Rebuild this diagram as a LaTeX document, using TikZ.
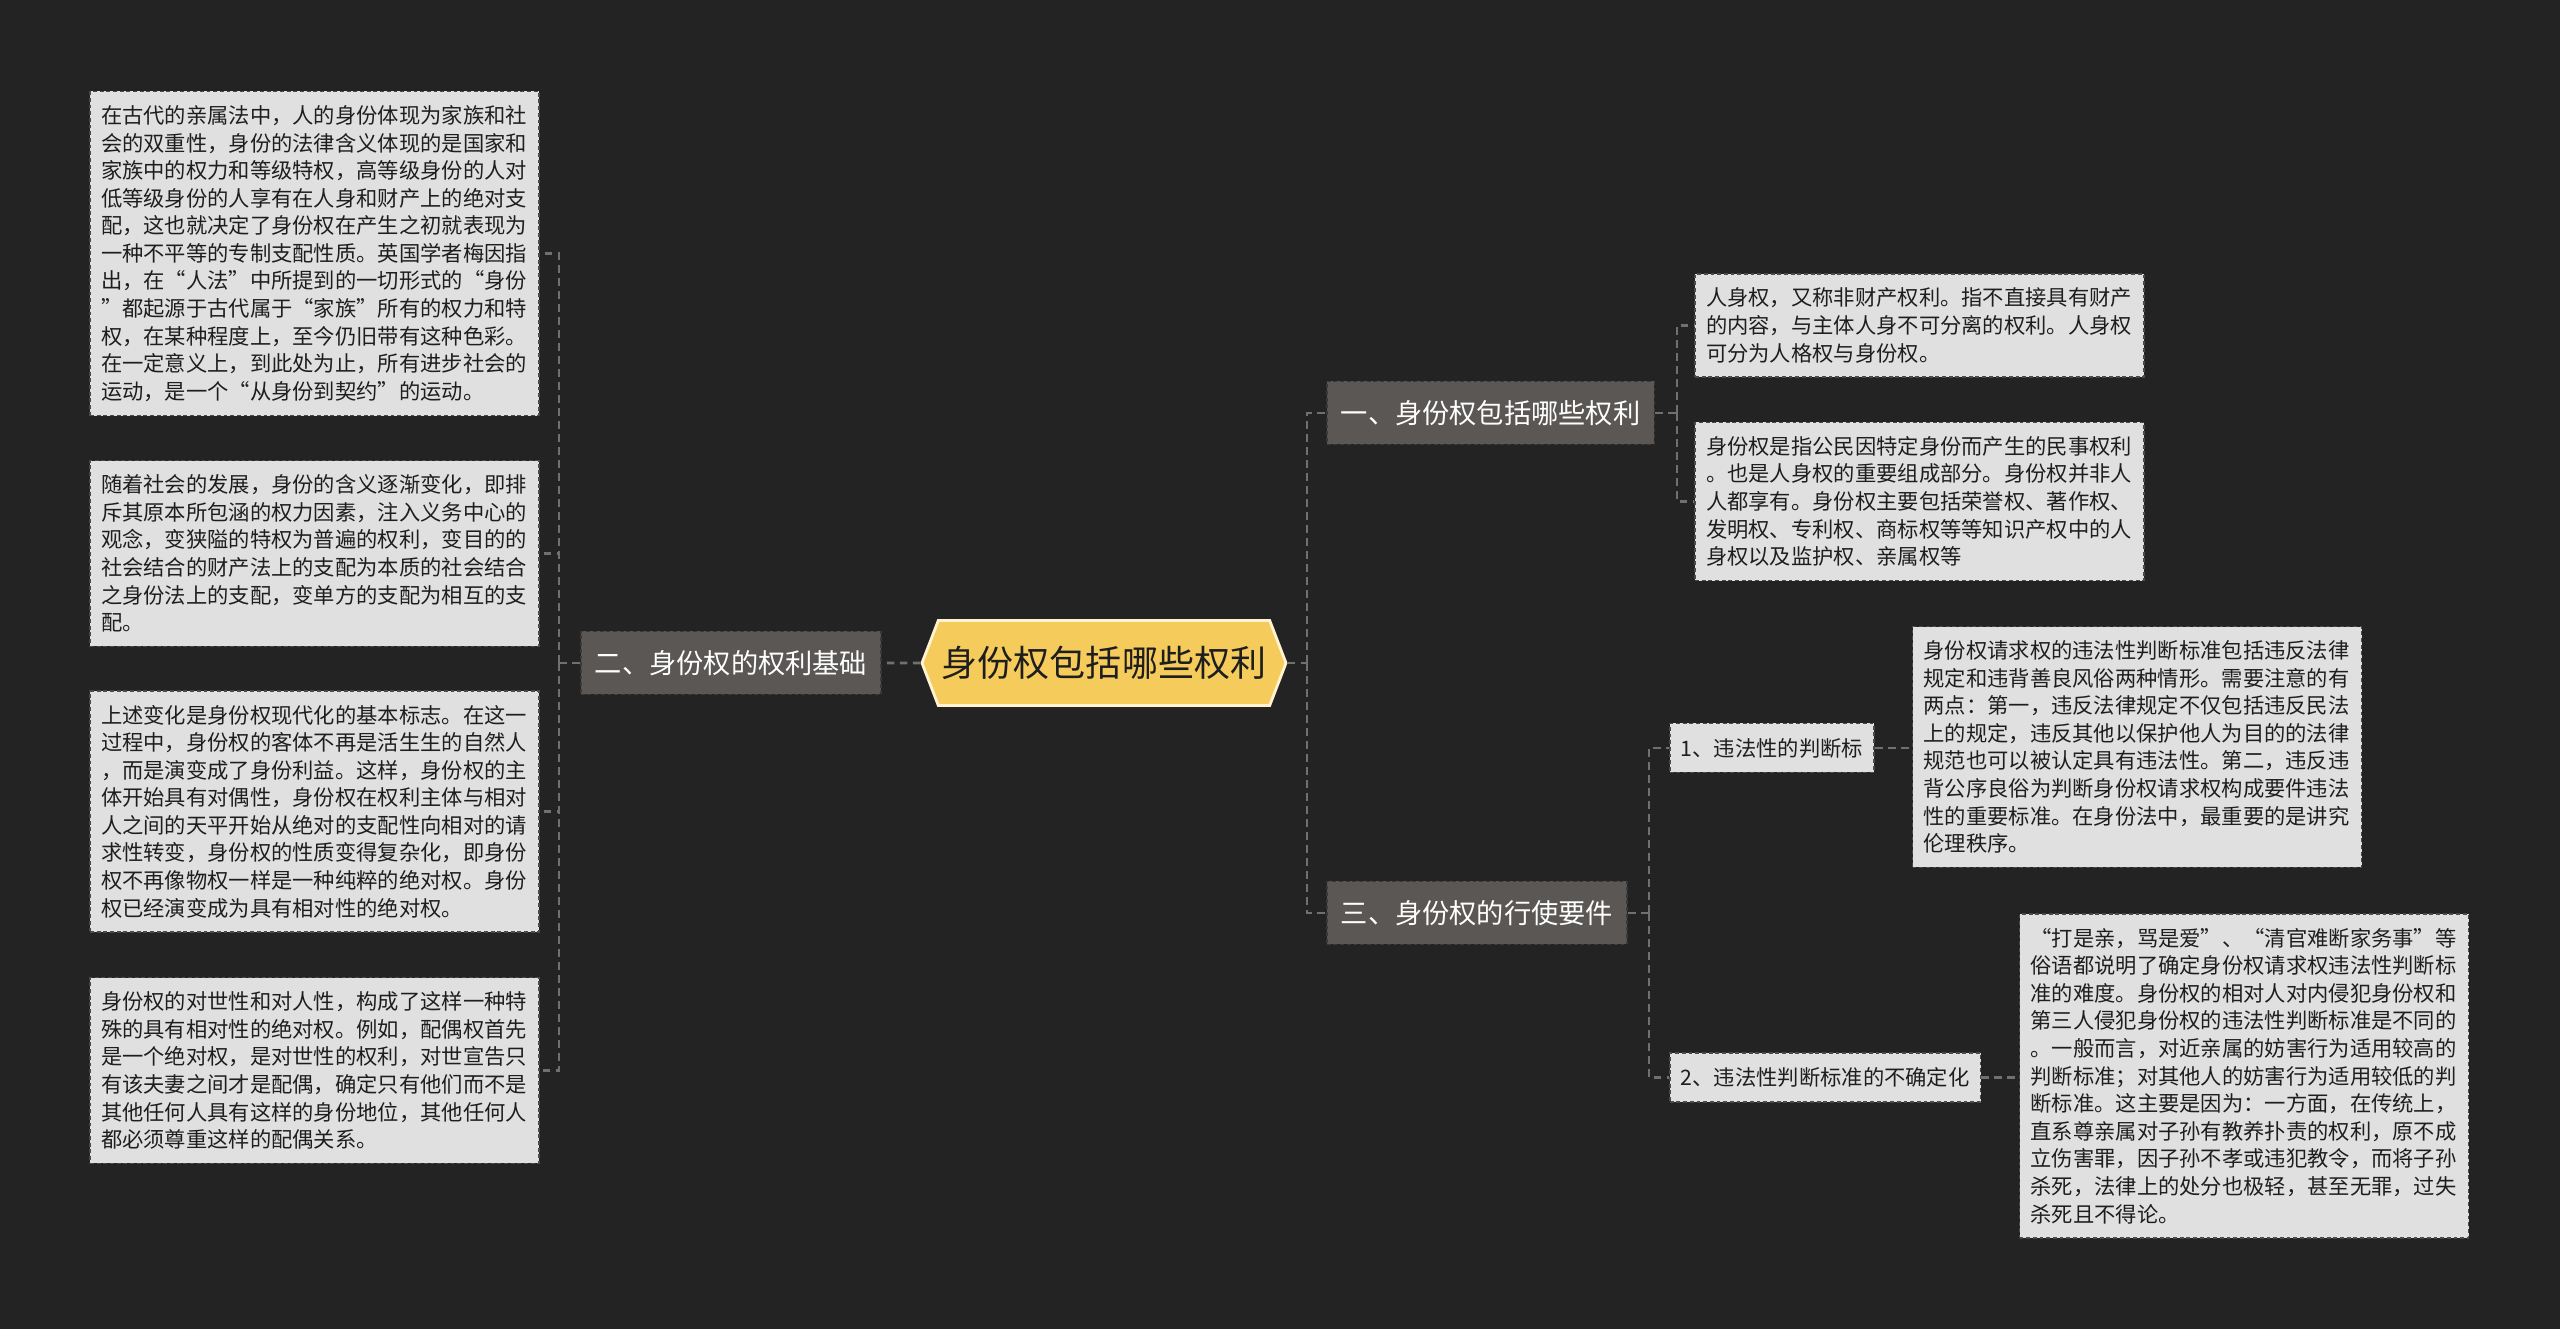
\documentclass[tikz,border=0pt]{standalone}
\usepackage{fontspec}
\newfontfamily\cjk{Noto Sans CJK SC}
\usetikzlibrary{
  positioning,
  shapes.symbols,
  calc
}
\definecolor{stBg}{HTML}{232323}
\definecolor{stYellow}{HTML}{F5CB5C}
\definecolor{stCream}{HTML}{FFF3D2}
\definecolor{stInk}{HTML}{1E1E1E}
\definecolor{stBranch}{HTML}{5A5755}
\definecolor{stBranchE}{HTML}{3A3938}
\definecolor{stBox}{HTML}{E0E0E0}
\definecolor{stBoxE}{HTML}{4A4A4A}
\definecolor{stLine}{HTML}{707070}
\setlength{\parindent}{0pt}

\begin{document}
\begin{tikzpicture}[
  every node/.style={font=\cjk, inner sep=0pt},
  root/.style={
    signal, signal to=west and east, signal pointer angle=138,
    fill=stYellow, draw=stCream, line width=0.8pt,
    minimum width=3.64cm, minimum height=0.85cm,
    text=stInk, font=\cjk\fontsize{10.25pt}{12pt}\selectfont
  },
  branch/.style={
    rectangle, fill=stBranch, draw=stBranchE,
    dash pattern=on 1.1pt off 0.8pt, line width=0.45pt,
    inner xsep=0.14cm, minimum height=0.63cm,
    text=white, font=\cjk\fontsize{7.75pt}{9pt}\selectfont
  },
  leaf/.style={
    rectangle, fill=stBox, draw=stBoxE,
    dash pattern=on 1.1pt off 0.8pt, line width=0.45pt,
    inner xsep=0.11cm, minimum height=0.49cm,
    text=stInk, font=\cjk\fontsize{6.06pt}{7.85pt}\selectfont
  },
  txtbox/.style={
    leaf, text width=4.27cm, align=left, inner ysep=0.14cm
  },
  link/.style={draw=stLine, line width=0.75pt, dash pattern=on 2.2pt off 1.5pt}
]
 \fill[stBg] (0,0) rectangle (25.6,-13.29);

 % Centre topic
 \node[root] (root) at (11.04,-6.63) {身份权包括哪些权利};

 % Left branch and its four texts
 \node[branch] (b2) at (7.31,-6.63) {二、身份权的权利基础};

 \node[txtbox] (L1) at (3.145,-2.535)
  {在古代的亲属法中，人的身份体现为家族和社\\会的双重性，身份的法律含义体现的是国家和\\家族中的权力和等级特权，高等级身份的人对\\低等级身份的人享有在人身和财产上的绝对支\\配，这也就决定了身份权在产生之初就表现为\\一种不平等的专制支配性质。英国学者梅因指\\出，在“人法”中所提到的一切形式的“身份\\”都起源于古代属于“家族”所有的权力和特\\权，在某种程度上，至今仍旧带有这种色彩。\\在一定意义上，到此处为止，所有进步社会的\\运动，是一个“从身份到契约”的运动。};
 \node[txtbox] (L2) at (3.145,-5.535)
  {随着社会的发展，身份的含义逐渐变化，即排\\斥其原本所包涵的权力因素，注入义务中心的\\观念，变狭隘的特权为普遍的权利，变目的的\\社会结合的财产法上的支配为本质的社会结合\\之身份法上的支配，变单方的支配为相互的支\\配。};
 \node[txtbox] (L3) at (3.145,-8.115)
  {上述变化是身份权现代化的基本标志。在这一\\过程中，身份权的客体不再是活生生的自然人\\，而是演变成了身份利益。这样，身份权的主\\体开始具有对偶性，身份权在权利主体与相对\\人之间的天平开始从绝对的支配性向相对的请\\求性转变，身份权的性质变得复杂化，即身份\\权不再像物权一样是一种纯粹的绝对权。身份\\权已经演变成为具有相对性的绝对权。};
 \node[txtbox] (L4) at (3.145,-10.705)
  {身份权的对世性和对人性，构成了这样一种特\\殊的具有相对性的绝对权。例如，配偶权首先\\是一个绝对权，是对世性的权利，对世宣告只\\有该夫妻之间才是配偶，确定只有他们而不是\\其他任何人具有这样的身份地位，其他任何人\\都必须尊重这样的配偶关系。};

 % Right branches
 \node[branch, anchor=west] (b1) at (13.26,-4.13) {一、身份权包括哪些权利};
 \node[branch, anchor=west] (b3) at (13.26,-9.13) {三、身份权的行使要件};

 \node[txtbox] (r1) at (19.195,-3.255)
  {人身权，又称非财产权利。指不直接具有财产\\的内容，与主体人身不可分离的权利。人身权\\可分为人格权与身份权。};
 \node[txtbox] (r2) at (19.195,-5.015)
  {身份权是指公民因特定身份而产生的民事权利\\。也是人身权的重要组成部分。身份权并非人\\人都享有。身份权主要包括荣誉权、著作权、\\发明权、专利权、商标权等等知识产权中的人\\身权以及监护权、亲属权等};

 % Sub-items under branch three
 \node[leaf, anchor=west] (s1) at (16.69,-7.48) {1、违法性的判断标};
 \node[leaf, anchor=west] (s2) at (16.69,-10.775) {2、违法性判断标准的不确定化};

 \node[txtbox] (r3) at (21.37,-7.47)
  {身份权请求权的违法性判断标准包括违反法律\\规定和违背善良风俗两种情形。需要注意的有\\两点：第一，违反法律规定不仅包括违反民法\\上的规定，违反其他以保护他人为目的的法律\\规范也可以被认定具有违法性。第二，违反违\\背公序良俗为判断身份权请求权构成要件违法\\性的重要标准。在身份法中，最重要的是讲究\\伦理秩序。};
 \node[txtbox] (r4) at (22.44,-10.76)
  {“打是亲，骂是爱”、“清官难断家务事”等\\俗语都说明了确定身份权请求权违法性判断标\\准的难度。身份权的相对人对内侵犯身份权和\\第三人侵犯身份权的违法性判断标准是不同的\\。一般而言，对近亲属的妨害行为适用较高的\\判断标准；对其他人的妨害行为适用较低的判\\断标准。这主要是因为：一方面，在传统上，\\直系尊亲属对子孙有教养扑责的权利，原不成\\立伤害罪，因子孙不孝或违犯教令，而将子孙\\杀死，法律上的处分也极轻，甚至无罪，过失\\杀死且不得论。};

 % Junctions
 \coordinate (jL) at (5.59,-6.63);
 \coordinate (jR) at (13.07,-6.63);
 \coordinate (j1) at (16.77,-4.13);
 \coordinate (j3) at (16.49,-9.13);

 % Connectors
 \draw[link] (root) -- (b2);
 \draw[link] (b2.west) -- (jL);
 \foreach \n in {L1,L2,L3,L4}
  \draw[link] (jL) |- (\n.east);

 \draw[link] (root.east) -- (jR);
 \draw[link] (jR) |- (b1.west);
 \draw[link] (jR) |- (b3.west);

 \draw[link] (b1.east) -- (j1);
 \draw[link] (j1) |- (r1.west);
 \draw[link] (j1) |- (r2.west);

 \draw[link] (b3.east) -- (j3);
 \draw[link] (j3) |- (s1.west);
 \draw[link] (j3) |- (s2.west);
 \draw[link] (s1.east) -- (r3.west |- s1.east);
 \draw[link] (s2.east) -- (r4.west |- s2.east);
\end{tikzpicture}
\end{document}
